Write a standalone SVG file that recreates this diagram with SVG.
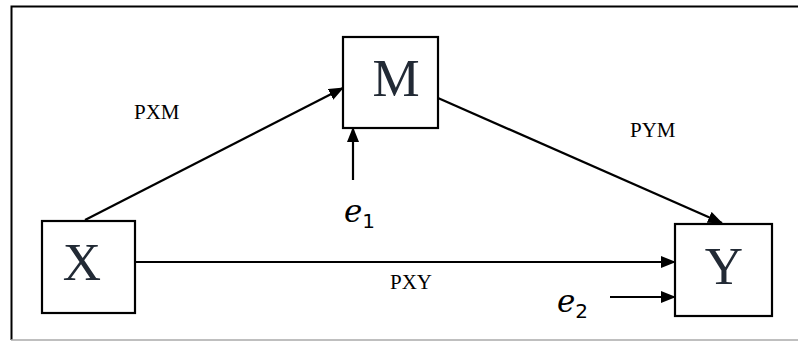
<svg xmlns="http://www.w3.org/2000/svg" width="798" height="350" viewBox="0 0 798 350">
<style>
.box{fill:#fff;stroke:#000;stroke-width:2.2}
.big{font-family:"Liberation Serif",serif;font-size:53px;fill:#222a35;text-anchor:middle}
.lbl{font-family:"Liberation Serif",serif;font-size:21px;fill:#000}
.e{font-family:"DejaVu Serif",serif;font-style:italic;font-size:31px;fill:#000}
.sub{font-family:"DejaVu Sans",sans-serif;font-size:20px;fill:#000}
.ln{stroke:#000;stroke-width:2.2;fill:none;marker-end:url(#ah)}
</style>
<defs>
<marker id="ah" markerWidth="15" markerHeight="12" refX="14" refY="6" orient="auto" markerUnits="userSpaceOnUse">
<path d="M0,0 L15,6 L0,12 Z" fill="#000"/>
</marker>
</defs>
<rect width="798" height="350" fill="#fff"/>
<g id="frame">
<path d="M798,6.5 H11.5 V340" fill="none" stroke="#000" stroke-width="2"/>
<line x1="11" y1="340" x2="798" y2="340" stroke="#aaa" stroke-width="1.5"/>
</g>
<g id="connectors">
<line class="ln" x1="85" y1="220" x2="343" y2="88"/>
<line class="ln" x1="353" y1="180" x2="353" y2="128"/>
<line class="ln" x1="438" y1="98" x2="722" y2="223"/>
<line class="ln" x1="135" y1="262" x2="675" y2="262"/>
<line class="ln" x1="610" y1="297" x2="675" y2="297"/>
</g>
<g id="node-X">
<rect class="box" x="42" y="221" width="93" height="92"/>
<text class="big" x="82" y="280">X</text>
</g>
<g id="node-M">
<rect class="box" x="343" y="37" width="95" height="91"/>
<text class="big" x="396" y="96">M</text>
</g>
<g id="node-Y">
<rect class="box" x="675" y="224" width="97" height="92"/>
<text class="big" x="724" y="284">Y</text>
</g>
<g id="labels">
<text class="lbl" x="134" y="119">PXM</text>
<text class="lbl" x="630" y="137">PYM</text>
<text class="lbl" x="390" y="289">PXY</text>
<text x="344" y="222"><tspan class="e">e</tspan><tspan class="sub" dy="6">1</tspan></text>
<text x="557" y="312"><tspan class="e">e</tspan><tspan class="sub" dy="6">2</tspan></text>
</g>
</svg>
